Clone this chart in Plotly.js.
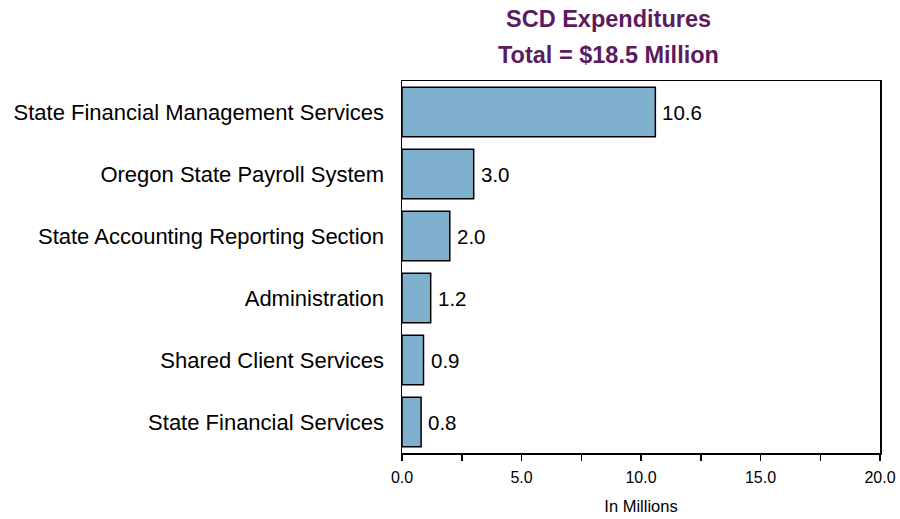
<!DOCTYPE html>
<html>
<head>
<meta charset="utf-8">
<script src="https://cdn.plot.ly/plotly-3.0.1.min.js"></script>
<style>html,body{margin:0;padding:0;background:#fff}#chart{width:900px;height:519px}</style>
</head>
<body>
<div id="chart"></div>
<script>
var categories = ["State Financial Management Services","Oregon State Payroll System","State Accounting Reporting Section","Administration","Shared Client Services","State Financial Services"];
var values = [10.6, 3.0, 2.0, 1.2, 0.9, 0.8];
var tickVals = [0, 5, 10, 15, 20];
var tickText = ["0.0", "5.0", "10.0", "15.0", "20.0"];

var trace = {
  type: 'bar',
  orientation: 'h',
  y: categories,
  x: values,
  marker: {color: '#7fb1cf', line: {color: '#000', width: 1.5}},
  hoverinfo: 'none'
};

var valueLabels = values.map(function(v, i){
  return {x: v, y: categories[i], xref: 'x', yref: 'y', text: v.toFixed(1), xanchor: 'left', yanchor: 'middle', xshift: 5, showarrow: false,
    font: {family: 'Arial, Liberation Sans, sans-serif', size: 20.5, color: '#000'}};
});

var layout = {
  width: 900, height: 519,
  margin: {l: 402, r: 20, t: 81, b: 66},
  paper_bgcolor: '#fff', plot_bgcolor: '#fff',
  font: {family: 'Arial, Liberation Sans, sans-serif', color: '#000'},
  bargap: 0.2,
  showlegend: false,
  xaxis: {
    range: [0, 20], tickvals: tickVals, ticktext: tickText,
    ticks: 'outside', ticklen: 6, tickwidth: 1.5, tickcolor: '#000',
    minor: {dtick: 2.5, ticks: 'outside', ticklen: 6, tickwidth: 1.5, tickcolor: '#000', showgrid: false},
    showgrid: false, zeroline: false,
    showline: true, linecolor: '#000', linewidth: 1.5, mirror: true,
    ticklabelstandoff: 3,
    tickfont: {size: 16, color: '#000'},
    title: {text: 'In Millions', font: {size: 16.5, color: '#000'}, standoff: 15}
  },
  yaxis: {
    autorange: 'reversed', type: 'category',
    showgrid: false, zeroline: false,
    showline: true, linecolor: '#000', linewidth: 1.5, mirror: true,
    ticks: '', ticklabelstandoff: 12,
    tickfont: {size: 22, color: '#000'}
  },
  annotations: [
    {text: '<b>SCD Expenditures</b>', xref: 'paper', yref: 'paper', x: 0.433, y: 1, xanchor: 'center', yanchor: 'middle', yshift: 62, showarrow: false, font: {size: 23.5, color: '#5c1a5f'}},
    {text: '<b>Total = $18.5 Million</b>', xref: 'paper', yref: 'paper', x: 0.433, y: 1, xanchor: 'center', yanchor: 'middle', yshift: 26, showarrow: false, font: {size: 23.5, color: '#5c1a5f'}}
  ].concat(valueLabels)
};

Plotly.newPlot('chart', [trace], layout, {displayModeBar: false, staticPlot: true});
</script>
</body>
</html>
